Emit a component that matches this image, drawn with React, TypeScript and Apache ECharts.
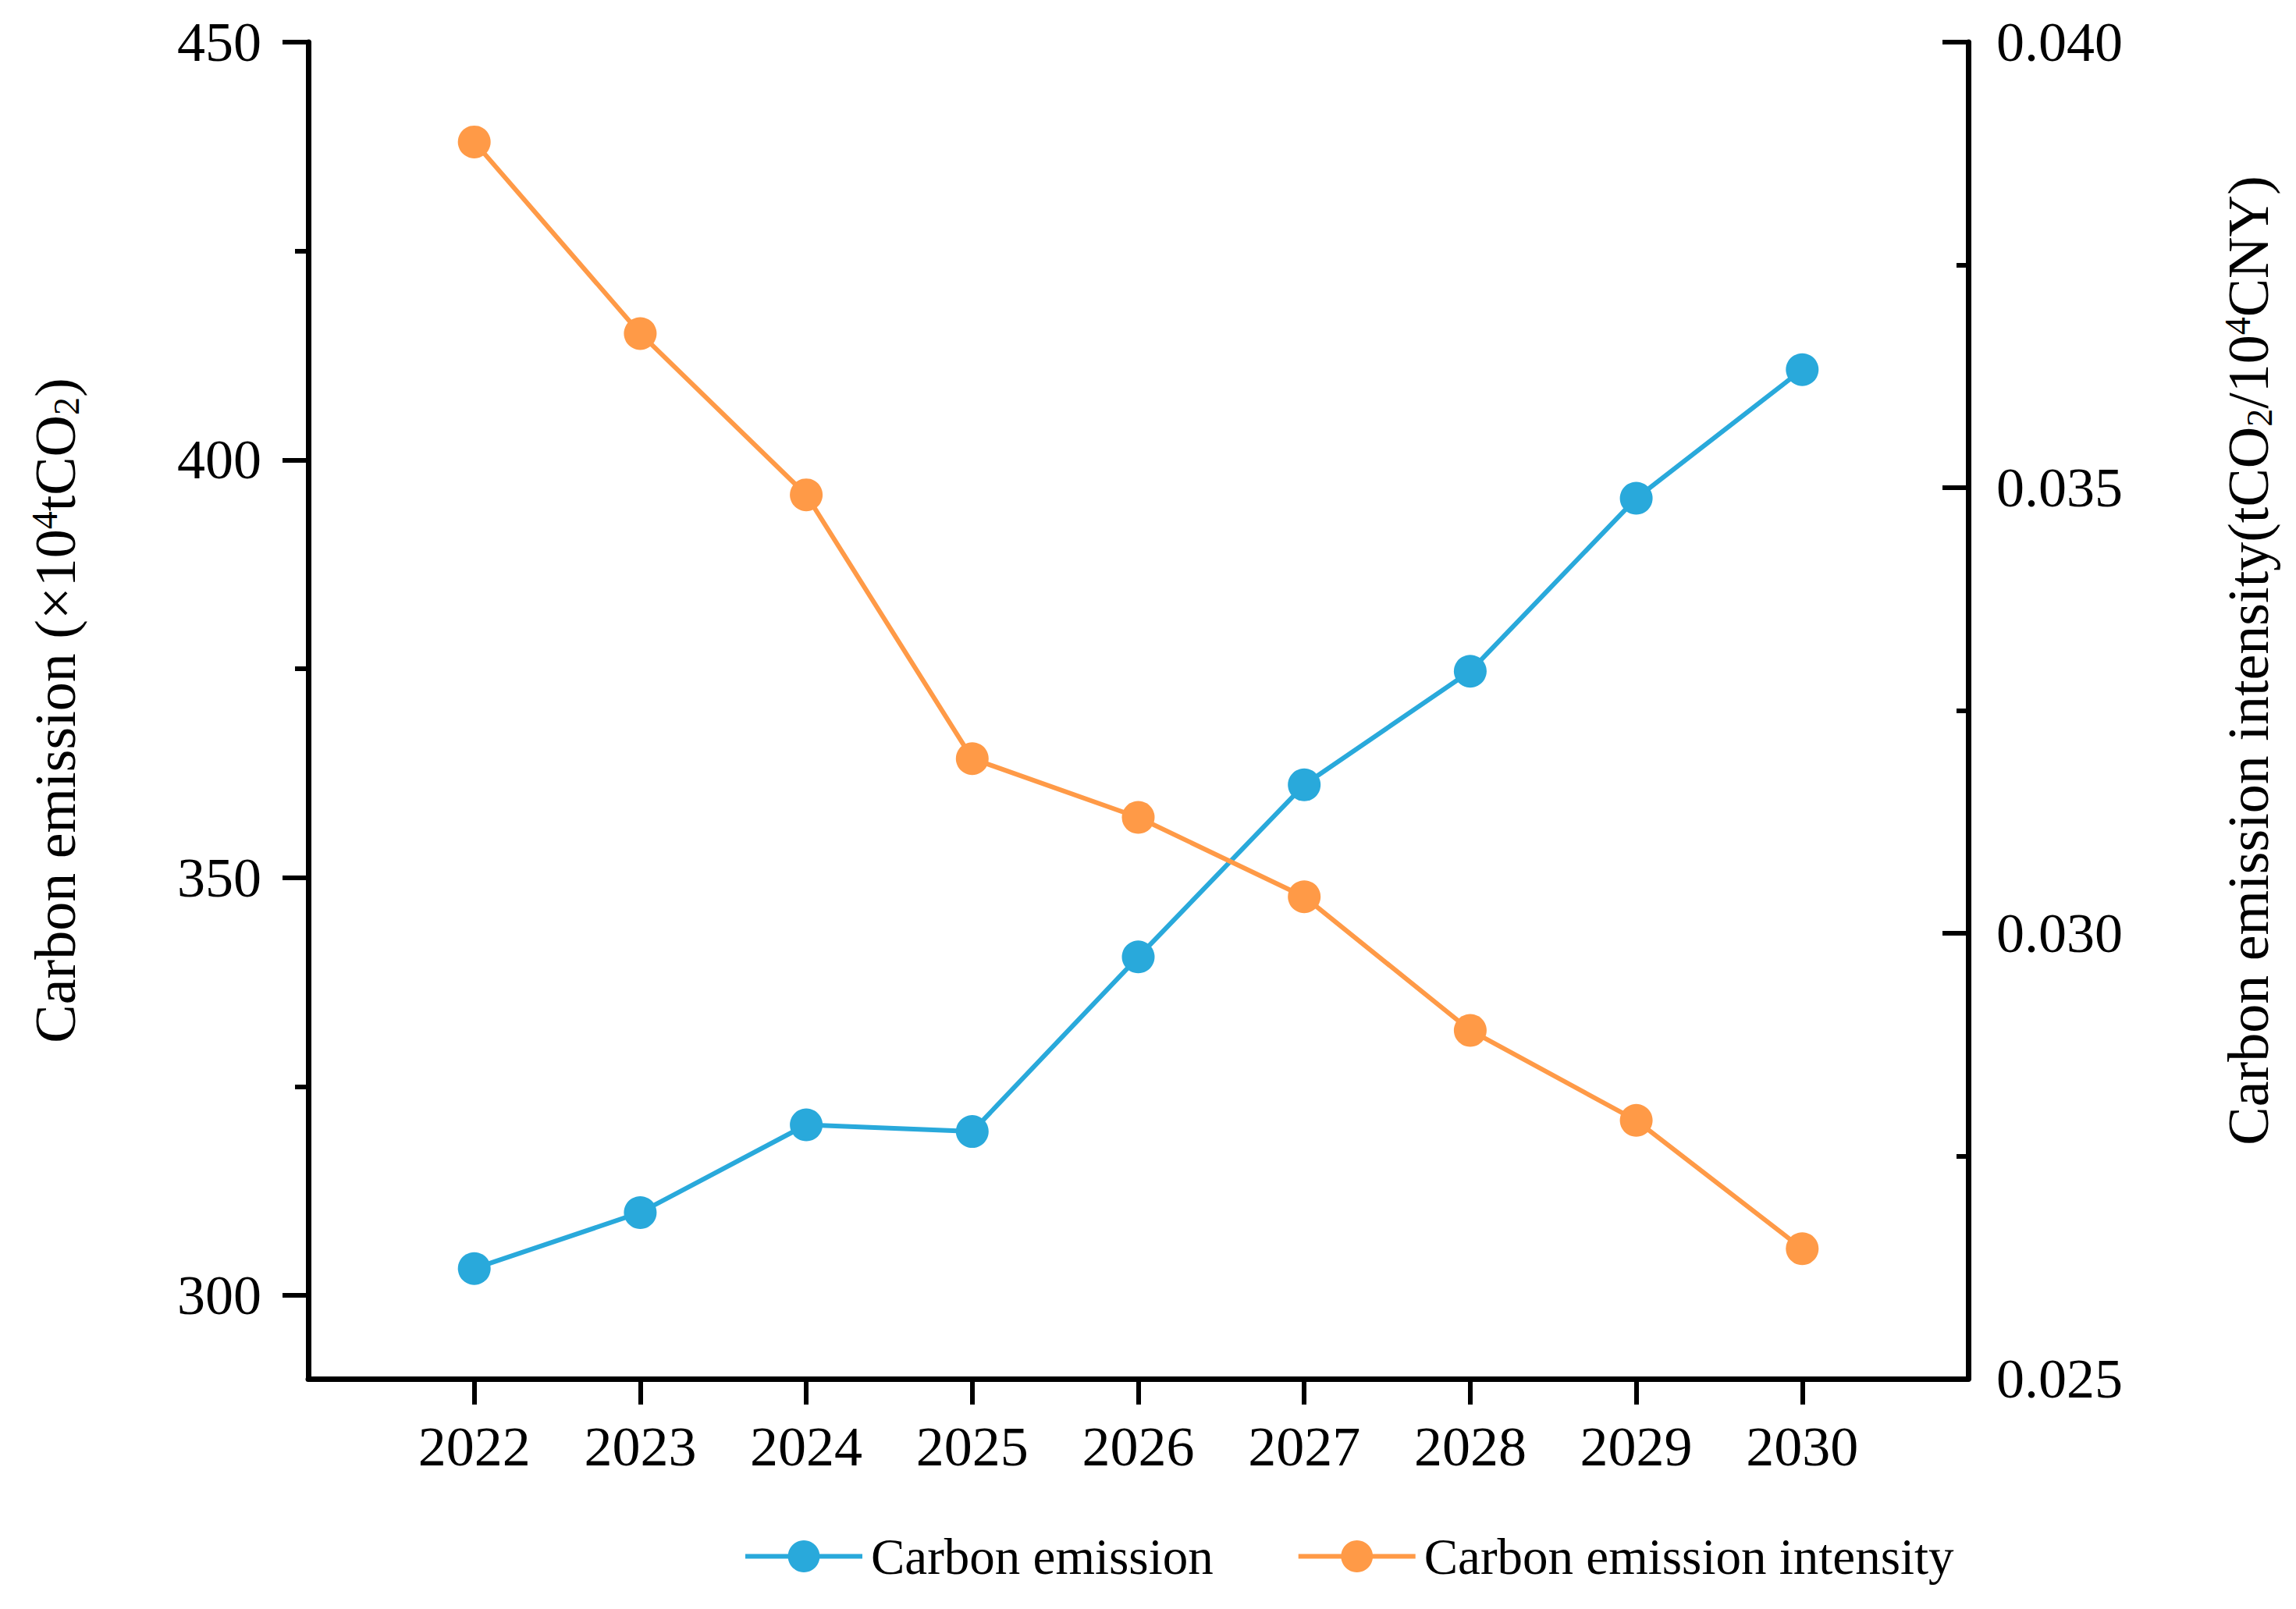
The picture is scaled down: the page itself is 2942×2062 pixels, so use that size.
import React, { useEffect, useRef } from "react";
import * as echarts from "echarts";

const years = [2022, 2023, 2024, 2025, 2026, 2027, 2028, 2029, 2030];
const emission = [303.2, 309.9, 320.4, 319.6, 340.5, 361.1, 374.7, 395.4, 410.8];
const intensity = [0.03888, 0.03673, 0.03492, 0.03196, 0.0313, 0.03041, 0.02891, 0.0279, 0.02646];
const leftMajorTicks = [300, 350, 400, 450];
const leftMinorTicks = [325, 375, 425];
const seriesNames = ["Carbon emission", "Carbon emission intensity"];

const FONT = '"Liberation Serif", "Times New Roman", serif';
const BLUE = "#29A9DB";
const ORANGE = "#FF9A47";

export default function App() {
  const ref = useRef<HTMLDivElement>(null);

  useEffect(() => {
    if (!ref.current) return;
    const chart = echarts.init(ref.current, undefined, { renderer: "svg" });

    const axisLine = { show: true, onZero: false, lineStyle: { color: "#000", width: 7 } };
    const tickStyle = { color: "#000", width: 6 };
    const labelBase = { color: "#000", fontFamily: FONT, fontSize: 72 };
    const nameRich = {
      sup: { fontFamily: FONT, fontSize: 46, color: "#000", verticalAlign: "top" },
      sub: { fontFamily: FONT, fontSize: 46, color: "#000", verticalAlign: "bottom" },
    };

    chart.setOption({
      animation: false,
      backgroundColor: "#fff",
      grid: { left: 395, right: 420, top: 54, bottom: 295, containLabel: false },
      legend: {
        left: 952,
        top: 1962,
        padding: 0,
        itemWidth: 150,
        itemHeight: 51,
        itemGap: 106,
        data: seriesNames,
        lineStyle: { width: 6 },
        textStyle: { fontFamily: FONT, fontSize: 65, color: "#000", padding: [0, 0, 0, 6] },
      },
      xAxis: {
        type: "value",
        min: 2021,
        max: 2031,
        axisLine,
        splitLine: { show: false },
        axisTick: { show: true, customValues: years, length: 33, lineStyle: tickStyle },
        axisLabel: {
          ...labelBase,
          customValues: years,
          margin: 51,
          formatter: (v: number) => String(v),
        },
      },
      yAxis: [
        {
          type: "value",
          position: "left",
          min: 290,
          max: 450,
          axisLine,
          splitLine: { show: false },
          axisTick: { show: true, customValues: leftMajorTicks, length: 33, lineStyle: tickStyle },
          axisLabel: { ...labelBase, customValues: leftMajorTicks, margin: 60 },
          name: "Carbon emission (×10{sup|4}tCO{sub|2})",
          nameLocation: "middle",
          nameRotate: 90,
          nameGap: 287,
          nameTextStyle: { fontFamily: FONT, fontSize: 74, color: "#000", rich: nameRich },
        },
        {
          type: "value",
          position: "right",
          min: 0.025,
          max: 0.04,
          interval: 0.005,
          axisLine,
          splitLine: { show: false },
          axisTick: { show: true, inside: true, length: 33, lineStyle: tickStyle },
          minorTick: { show: true, splitNumber: 2, length: 15, lineStyle: tickStyle },
          minorSplitLine: { show: false },
          axisLabel: { ...labelBase, margin: 36, formatter: (v: number) => v.toFixed(3) },
          name: "Carbon emission intensity(tCO{sub|2}/10{sup|4}CNY)",
          nameLocation: "middle",
          nameRotate: 90,
          nameGap: 322,
          nameTextStyle: {
            fontFamily: FONT,
            fontSize: 74,
            color: "#000",
            rich: nameRich,
            padding: [0, 0, 0, 128],
          },
        },
        {
          type: "value",
          position: "left",
          min: 290,
          max: 450,
          axisLine: { show: false },
          splitLine: { show: false },
          axisTick: { show: true, customValues: leftMinorTicks, length: 17, lineStyle: tickStyle },
          axisLabel: { show: false },
        },
      ],
      series: [
        {
          name: seriesNames[0],
          type: "line",
          xAxisIndex: 0,
          yAxisIndex: 0,
          data: years.map((y, i) => [y, emission[i]]),
          symbol: "circle",
          symbolSize: 42,
          lineStyle: { color: BLUE, width: 6 },
          itemStyle: { color: BLUE },
        },
        {
          name: seriesNames[1],
          type: "line",
          xAxisIndex: 0,
          yAxisIndex: 1,
          data: years.map((y, i) => [y, intensity[i]]),
          symbol: "circle",
          symbolSize: 42,
          lineStyle: { color: ORANGE, width: 6 },
          itemStyle: { color: ORANGE },
        },
      ],
    });

    return () => chart.dispose();
  }, []);

  return (
    <div
      ref={ref}
      style={{ position: "absolute", left: 0, top: 0, width: 2942, height: 2062 }}
    />
  );
}
